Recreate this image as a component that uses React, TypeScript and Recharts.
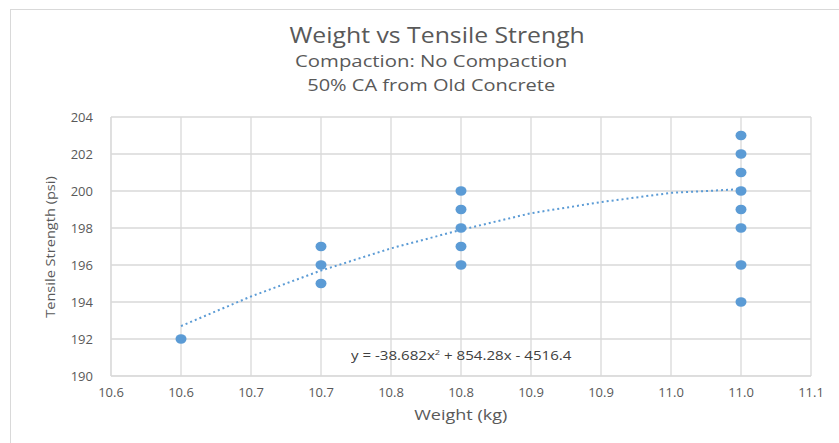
import { ScatterChart, Scatter, XAxis, YAxis, CartesianGrid } from 'recharts'

// measured points
const weightKg = [10.6, 10.7, 10.7, 10.7, 10.8, 10.8, 10.8, 10.8, 10.8, 11.0, 11.0, 11.0, 11.0, 11.0, 11.0, 11.0, 11.0]
const strengthPsi = [192, 197, 196, 195, 200, 199, 198, 197, 196, 203, 202, 201, 200, 199, 198, 196, 194]

// trendline
const trendX = [10.6, 10.65, 10.7, 10.75, 10.8, 10.85, 10.9, 10.95, 11.0]
const trendY = [192.7, 194.3, 195.7, 196.9, 197.9, 198.8, 199.4, 199.9, 200.1]

const xTicks = [10.55, 10.6, 10.65, 10.7, 10.75, 10.8, 10.85, 10.9, 10.95, 11.0, 11.05]
const xTickLabels = ['10.6', '10.6', '10.7', '10.7', '10.8', '10.8', '10.9', '10.9', '11.0', '11.0', '11.1']
const yTicks = [190, 192, 194, 196, 198, 200, 202, 204]

const points = weightKg.map((x, i) => ({ x, y: strengthPsi[i] }))
const trend = trendX.map((x, i) => ({ x, y: trendY[i] }))

const FONT = '"Open Sans", "Noto Sans", sans-serif'
const TEXT = '#595959'
const BLUE = '#5b9bd5'
const GRID = '#d9d9d9'

// the original chart text looks a bit stretched sideways
const Stretch = ({ sx, children }: { sx: number; children: React.ReactNode }) => (
  <span style={{ display: 'inline-block', transform: `scaleX(${sx})`, whiteSpace: 'nowrap' }}>{children}</span>
)

const centered = (top: number, size: number, left = 0): React.CSSProperties => ({
  position: 'absolute',
  left,
  width: 862,
  top,
  textAlign: 'center',
  fontSize: size,
  color: TEXT,
  lineHeight: 1,
})

export default function App() {
  return (
    <div
      style={{
        position: 'absolute',
        left: 0,
        top: 0,
        width: 839,
        height: 443,
        overflow: 'hidden',
        background: '#fff',
        fontFamily: FONT,
      }}
    >
      <div
        style={{
          position: 'absolute',
          left: 10,
          top: 9,
          width: 900,
          height: 500,
          border: `1px solid ${GRID}`,
        }}
      />
      <ScatterChart
        width={839}
        height={443}
        margin={{ top: 117, right: 28, bottom: 37, left: 0 }}
        style={{ position: 'absolute', left: 0, top: 0 }}
      >
        <CartesianGrid stroke={GRID} strokeWidth={1.3} />
        <XAxis
          type="number"
          dataKey="x"
          domain={[10.55, 11.05]}
          ticks={xTicks}
          tickFormatter={(_v: number, i: number) => xTickLabels[i]}
          tickLine={false}
          tickSize={10}
          tickMargin={2}
          height={30}
          axisLine={{ stroke: GRID }}
          tick={{ fill: TEXT, fontSize: 13, fontFamily: FONT }}
          interval={0}
        />
        <YAxis
          type="number"
          dataKey="y"
          domain={[190, 204]}
          ticks={yTicks}
          tickLine={false}
          tickSize={16}
          tickMargin={2}
          width={111}
          axisLine={{ stroke: GRID }}
          tick={{ fill: TEXT, fontSize: 13, fontFamily: FONT }}
          interval={0}
        />
        <Scatter
          data={trend}
          fill="none"
          shape={() => <g />}
          line={{ stroke: BLUE, strokeWidth: 2, strokeDasharray: '2 3' }}
          lineType="joint"
          isAnimationActive={false}
        />
        <Scatter
          data={points}
          fill={BLUE}
          shape={(p: any) => <ellipse cx={p.cx} cy={p.cy} rx={5.5} ry={4.8} fill={BLUE} />}
          isAnimationActive={false}
        />
      </ScatterChart>

      <div style={centered(25, 21, 6)}>
        <Stretch sx={1.18}>Weight vs Tensile Strengh</Stretch>
      </div>
      <div style={centered(53, 16)}>
        <Stretch sx={1.27}>Compaction: No Compaction</Stretch>
      </div>
      <div style={centered(77, 16)}>
        <Stretch sx={1.25}>50% CA from Old Concrete</Stretch>
      </div>

      <div
        style={{
          position: 'absolute',
          left: 50,
          top: 247,
          transform: 'translate(-50%, -50%) rotate(-90deg) scaleX(1.12)',
          whiteSpace: 'nowrap',
          fontSize: 13,
          color: TEXT,
          lineHeight: 1,
        }}
      >
        Tensile Strength (psi)
      </div>
      <div
        style={{
          position: 'absolute',
          left: 361,
          width: 200,
          top: 407,
          textAlign: 'center',
          fontSize: 15,
          color: TEXT,
          lineHeight: 1,
        }}
      >
        <Stretch sx={1.2}>Weight (kg)</Stretch>
      </div>
      <div
        style={{
          position: 'absolute',
          left: 351,
          top: 349,
          whiteSpace: 'nowrap',
          fontSize: 13,
          color: '#404040',
          lineHeight: 1,
          transform: 'scaleX(1.16)',
          transformOrigin: 'left center',
        }}
      >
        y = -38.682x<sup style={{ fontSize: 8, verticalAlign: 'super', lineHeight: 0 }}>2</sup> + 854.28x - 4516.4
      </div>
    </div>
  )
}
